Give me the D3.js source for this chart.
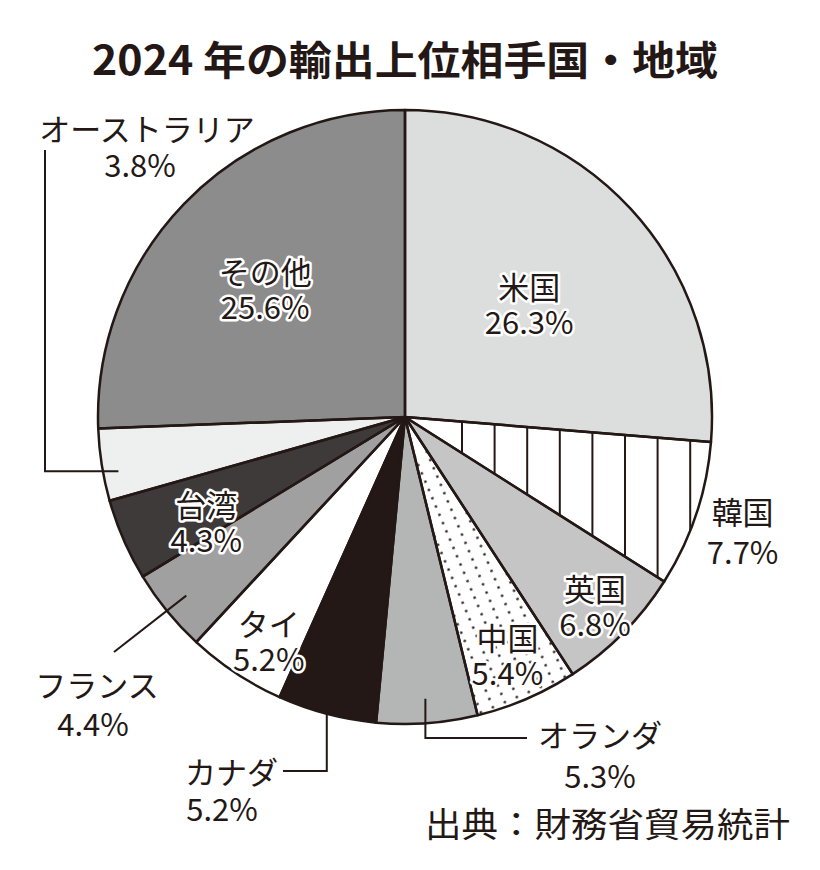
<!DOCTYPE html>
<html>
<head>
<meta charset="utf-8">
<script src="https://cdn.jsdelivr.net/npm/d3@7"></script>
<style>
  body { margin: 0; background: #fff; }
  text { font-family: "Noto Sans CJK JP", "Noto Sans", sans-serif; }
</style>
</head>
<body>
<svg id="chart" width="820" height="870"></svg>
<script>
// データ
const names = ["米国", "韓国", "英国", "中国", "オランダ", "カナダ", "タイ", "フランス", "台湾", "オーストラリア", "その他"];
const shares = [26.3, 7.7, 6.8, 5.4, 5.3, 5.2, 5.2, 4.4, 4.3, 3.8, 25.6];
const titleText = "2024 年の輸出上位相手国・地域";
const sourceText = "出典：財務省貿易統計";

const ink = "#231815";
const fills = {
    "米国": "#dcdddd",
    "韓国": "#ffffff",
    "英国": "#c5c5c5",
    "中国": "url(#dots)",
    "オランダ": "#b4b5b5",
    "カナダ": ink,
    "タイ": "#ffffff",
    "フランス": "#a0a0a0",
    "台湾": "#3e3a39",
    "オーストラリア": "#eeefef",
    "その他": "#8c8c8c"
};

const cx = 405, cy = 417, R = 307;
const fontSize = 31;

// ラベル配置（半径係数と角度補正）
const insideLabels = {
    "米国": { k: 0.55, da: 0 },
    "その他": { k: 0.62, da: -1.2 },
    "台湾": { k: 0.73, da: -4 },
    "タイ": { k: 0.85, da: -2 },
    "中国": { k: 0.84, da: 0 },
    "英国": { k: 0.87, da: 0 },
    "韓国": { k: 1.16, da: 0, plain: true }
};

const data = names.map((n, i) => ({ name: n, value: shares[i] }));

const svg = d3.select("#chart");
const defs = svg.append("defs");

// 点パターン（中国）
const dots = defs.append("pattern")
    .attr("id", "dots")
    .attr("patternUnits", "userSpaceOnUse")
    .attr("width", 13)
    .attr("height", 9)
    .attr("patternTransform", "rotate(-23)");
dots.append("rect").attr("width", 13).attr("height", 9).attr("fill", "#fff");
dots.append("circle").attr("cx", 6.5).attr("cy", 4.5).attr("r", 1.3).attr("fill", ink);

// タイトル
svg.append("text")
    .attr("x", cx)
    .attr("y", 58)
    .attr("text-anchor", "middle")
    .attr("dominant-baseline", "central")
    .attr("font-size", 40)
    .attr("font-weight", 700)
    .attr("fill", ink)
    .attr("textLength", 626)
    .attr("lengthAdjust", "spacingAndGlyphs")
    .text(titleText);

const g = svg.append("g").attr("transform", `translate(${cx},${cy})`);

const pie = d3.pie().sort(null).value(d => d.value);
const arc = d3.arc().innerRadius(0).outerRadius(R);
const arcs = pie(data);

g.selectAll("path.slice")
    .data(arcs)
    .join("path")
    .attr("class", "slice")
    .attr("d", arc)
    .attr("fill", d => fills[d.data.name]);

// 韓国の縦線（扇形でクリップ）
const korea = arcs.find(d => d.data.name === "韓国");
defs.append("clipPath").attr("id", "koreaClip")
    .append("path").attr("d", arc(korea));
g.append("g")
    .attr("clip-path", "url(#koreaClip)")
    .selectAll("line")
    .data(d3.range(57, R, 32.6))
    .join("line")
    .attr("x1", d => d).attr("x2", d => d)
    .attr("y1", -R).attr("y2", R)
    .attr("stroke", ink)
    .attr("stroke-width", 2);

// 扇形の輪郭
g.selectAll("path.edge")
    .data(arcs)
    .join("path")
    .attr("class", "edge")
    .attr("d", arc)
    .attr("fill", "none")
    .attr("stroke", ink)
    .attr("stroke-width", 2.5)
    .attr("stroke-linejoin", "round");

// 角度・半径から座標
function polar(angle, r) {
    return [r * Math.sin(angle), -r * Math.cos(angle)];
}
function mid(d) { return (d.startAngle + d.endAngle) / 2; }
const byName = {};
arcs.forEach(d => { byName[d.data.name] = d; });

function addText(x, y, s, anchor, halo) {
    const t = g.append("text")
        .attr("x", x)
        .attr("y", y)
        .attr("text-anchor", anchor)
        .attr("dominant-baseline", "central")
        .attr("font-size", fontSize)
        .attr("fill", ink)
        .text(s);
    if (halo) {
        t.attr("stroke", "#fff")
            .attr("stroke-width", 5)
            .attr("stroke-linejoin", "round")
            .attr("paint-order", "stroke");
    }
    return t;
}

// 円内ラベル
Object.entries(insideLabels).forEach(([name, c]) => {
    const d = byName[name];
    const [x, y] = polar(mid(d) + c.da * Math.PI / 180, R * c.k);
    const gap = c.plain ? 40 : 35;
    addText(x, y - gap / 2, name, "middle", !c.plain);
    addText(x, y + gap / 2, d.data.value + "%", "middle", !c.plain);
});

// 引き出し線ラベル
const line = d3.line();
function leader(pts) {
    g.append("path")
        .attr("d", line(pts))
        .attr("fill", "none")
        .attr("stroke", ink)
        .attr("stroke-width", 2);
}

// オランダ
{
    const d = byName["オランダ"];
    const a = polar(mid(d), R * 0.92);
    leader([a, [a[0], 321], [122, 321]]);
    addText(133, 316, "オランダ", "start", false);
    addText(195, 357, d.data.value + "%", "middle", false);
}
// カナダ
{
    const d = byName["カナダ"];
    const a = polar(mid(d), R);
    leader([a, [a[0], 354], [-122, 354]]);
    addText(-127, 353, "カナダ", "end", false);
    addText(-183, 390, d.data.value + "%", "middle", false);
}
// フランス
{
    const d = byName["フランス"];
    const a = polar(mid(d), R * 0.92);
    leader([a, [-291, 235]]);
    addText(-308, 266, "フランス", "middle", false);
    addText(-312, 305, d.data.value + "%", "middle", false);
}
// オーストラリア
{
    const d = byName["オーストラリア"];
    const a = polar(mid(d) - 1.7 * Math.PI / 180, R * 0.95);
    leader([a, [-360, a[1]], [-360, -267]]);
    addText(-258, -290, "オーストラリア", "middle", false);
    addText(-265, -254, d.data.value + "%", "middle", false);
}

// 出典
svg.append("text")
    .attr("x", 425)
    .attr("y", 822)
    .attr("dominant-baseline", "central")
    .attr("font-size", 34)
    .attr("fill", ink)
    .attr("textLength", 365)
    .attr("lengthAdjust", "spacingAndGlyphs")
    .text(sourceText);
</script>
</body>
</html>
